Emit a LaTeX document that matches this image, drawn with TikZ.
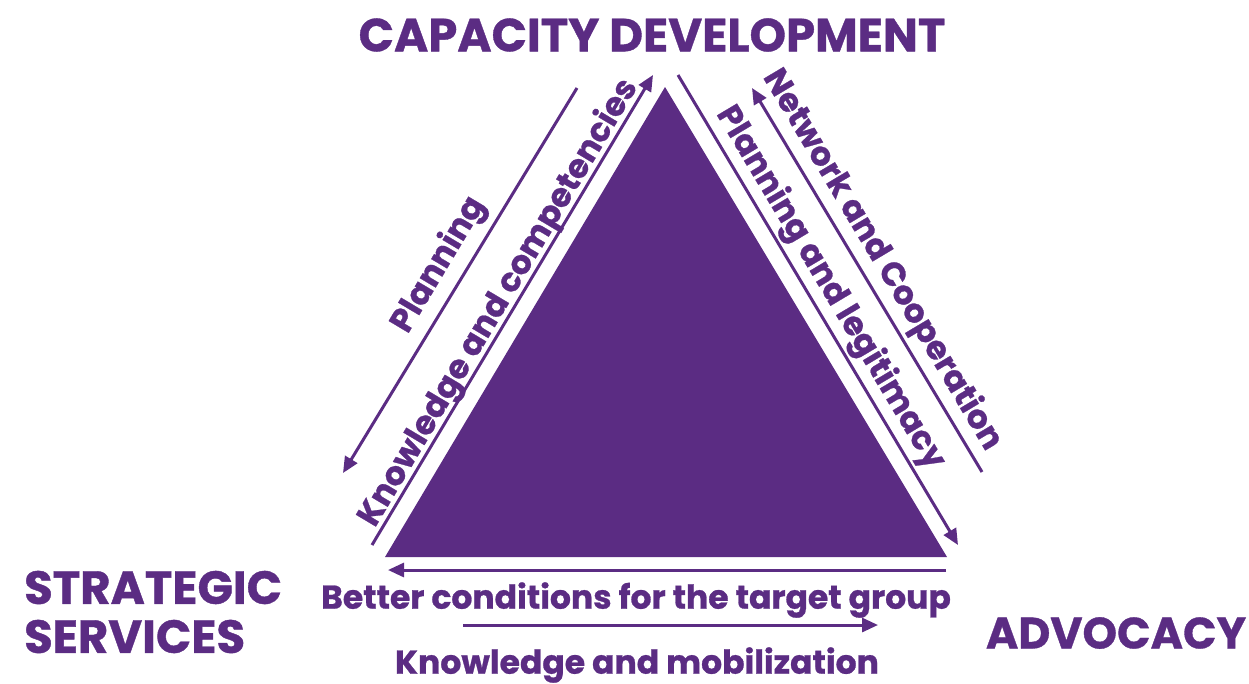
\documentclass[tikz,border=0pt]{standalone}
\usepackage{fontspec}
\setmainfont{Poppins}[BoldFeatures={FakeBold=0.8}]
\usetikzlibrary{positioning}
\usetikzlibrary{arrows.meta}
\definecolor{mainPurple}{RGB}{91,44,131}

\begin{document}
\begin{tikzpicture}[x=1pt,y=-1pt]

            \tikzstyle{cornerLabel} = [text=mainPurple, inner sep=0pt, font=\fontsize{46.5}{49}\selectfont\bfseries];
            \tikzstyle{flowLabel} = [text=mainPurple, inner sep=0pt, font=\fontsize{33}{36}\selectfont\bfseries];
            \tikzstyle{flowArrow} = [line width=3pt, mainPurple, -{Triangle[length=16pt,width=14pt]}];

            \useasboundingbox (0,0) rectangle (1249,683);

            % triangle
            \coordinate (top)   at (665,87);
            \coordinate (left)  at (385,557);
            \coordinate (right) at (947,557);
            \fill[mainPurple] (top) -- (left) -- (right) -- cycle;

            % corners
            \node[cornerLabel] (capDev) at (652,35) {CAPACITY DEVELOPMENT};
            \node[cornerLabel, anchor=west, align=left] (stratServ) at (24,612) {STRATEGIC\\SERVICES};
            \node[cornerLabel, font=\fontsize{44}{49}\selectfont\bfseries] (advocacy) at (1116,633) {ADVOCACY};

            % arrow ends
            \coordinate (planA) at (577,88);
            \coordinate (planB) at (343,473);
            \coordinate (compA) at (372,545);
            \coordinate (compB) at (653,75);
            \coordinate (legA)  at (678,75);
            \coordinate (legB)  at (958,545);
            \coordinate (netA)  at (982,472);
            \coordinate (netB)  at (752,88);
            \coordinate (betA)  at (946,570);
            \coordinate (betB)  at (388,570);
            \coordinate (mobA)  at (463,625);
            \coordinate (mobB)  at (878,625);

            \draw[flowArrow] (planA) -- (planB);
            \draw[flowArrow] (compA) -- (compB);
            \draw[flowArrow] (legA) -- (legB);
            \draw[flowArrow] (netA) -- (netB);
            \draw[flowArrow] (betA) -- (betB);
            \draw[flowArrow] (mobA) -- (mobB);

            % labels
            \node[flowLabel, rotate=59.2]  (planning)  at (439,265) {Planning};
            \node[flowLabel, rotate=59.2]  (knowComp)  at (499,303) {Knowledge and competencies};
            \node[flowLabel, rotate=-59.2] (planLeg)   at (830,288) {Planning and legitimacy};
            \node[flowLabel, rotate=-59.2] (netCoop)   at (882,260) {Network and Cooperation};
            \node[flowLabel] (better)  at (636,600) {Better conditions for the target group};
            \node[flowLabel] (knowMob) at (637,665) {Knowledge and mobilization};
          \end{tikzpicture}
\end{document}
